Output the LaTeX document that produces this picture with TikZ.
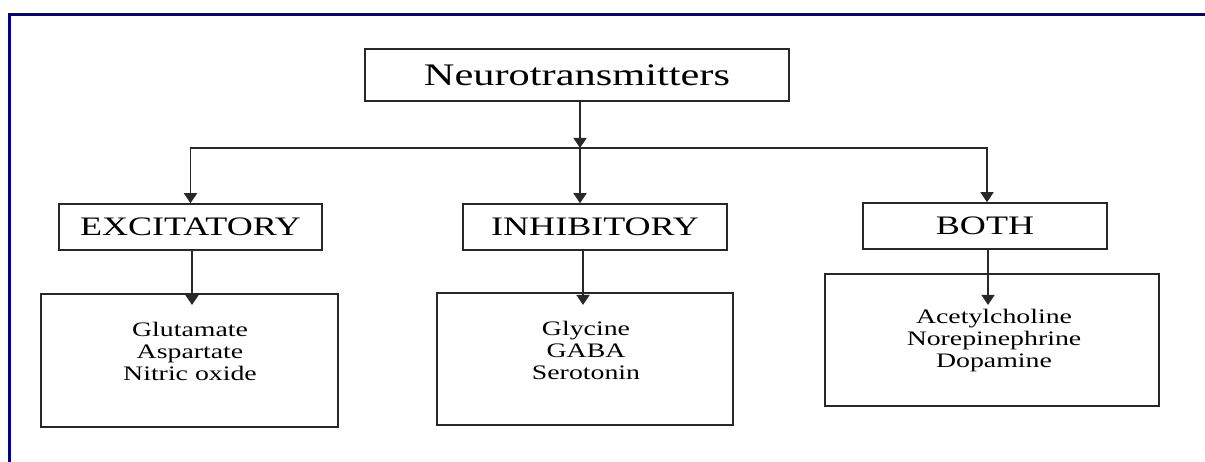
\documentclass[tikz,border=0pt]{standalone}
\usepackage{fontspec}
\setmainfont[FakeStretch=1.35]{Liberation Serif}
\usepackage{xcolor}
\usetikzlibrary{arrows.meta,positioning,calc}
\definecolor{framenavy}{RGB}{0,0,140}
\definecolor{inkgray}{RGB}{40,40,40}

\begin{document}
\begin{tikzpicture}[x=1pt, y=-1pt,
    box/.style={draw=inkgray, line width=1.5pt, inner sep=0pt, text=black},
    titlebox/.style={box, minimum width=424pt, minimum height=52pt, font=\fontsize{31.4}{36}\selectfont},
    classbox/.style={box, minimum height=46pt, font=\fontsize{26.7}{30}\selectfont},
    listbox/.style={box, minimum height=132pt},
    listtext/.style={align=center, text=black, font=\fontsize{20.6}{22}\selectfont},
    arrow/.style={draw=inkgray, line width=1.4pt, -{Triangle[length=10pt,width=13pt]}}
]
% canvas and frame
\fill[white] (0,0) rectangle (1205,462);
\useasboundingbox (0,0) rectangle (1205,462);
\draw[framenavy, line width=3pt] (9.5,462) -- (9.5,14.5) -- (1205,14.5);

% TOP
\node[titlebox] (top) at (577,75) {Neurotransmitters};

% CLASSES
\node[classbox, minimum width=263pt] (exc) at (190.5,227) {EXCITATORY};
\node[classbox, minimum width=264pt] (inh) at (595,227) {INHIBITORY};
\node[classbox, minimum width=244pt] (both) at (985,226) {BOTH};

% LISTS
\node[listbox, minimum width=297pt, minimum height=133pt] (exclist) at (189.5,360.5) {};
\node[listbox, minimum width=296pt] (inhlist) at (585,359) {};
\node[listbox, minimum width=334pt] (bothlist) at (992,340) {};
\node[listtext] (exctext) at (190,351) {Glutamate\\Aspartate\\Nitric oxide};
\node[listtext] (inhtext) at (586,350) {Glycine\\GABA\\Serotonin};
\node[listtext] (bothtext) at (994,341) {Acetylcholine\\Norepinephrine\\Dopamine};

% CONNECTORS
\coordinate (split) at (580,148);
\coordinate (tipline) at (0,305);
\draw[arrow] (top.south -| split) -- (split);
\draw[arrow] (split) -- (split |- inh.north);
\draw[arrow] (split) -| (exc.north);
\draw[arrow] (split) -| ([xshift=2pt]both.north);
\draw[arrow] ([xshift=1.5pt]exc.south) -- ([xshift=1.5pt]exc.south |- tipline);
\draw[arrow] ([xshift=-12pt]inh.south) -- ([xshift=-12pt]inh.south |- tipline);
\draw[arrow] ([xshift=3pt]both.south) -- ([xshift=3pt]both.south |- tipline);
\end{tikzpicture}
\end{document}
